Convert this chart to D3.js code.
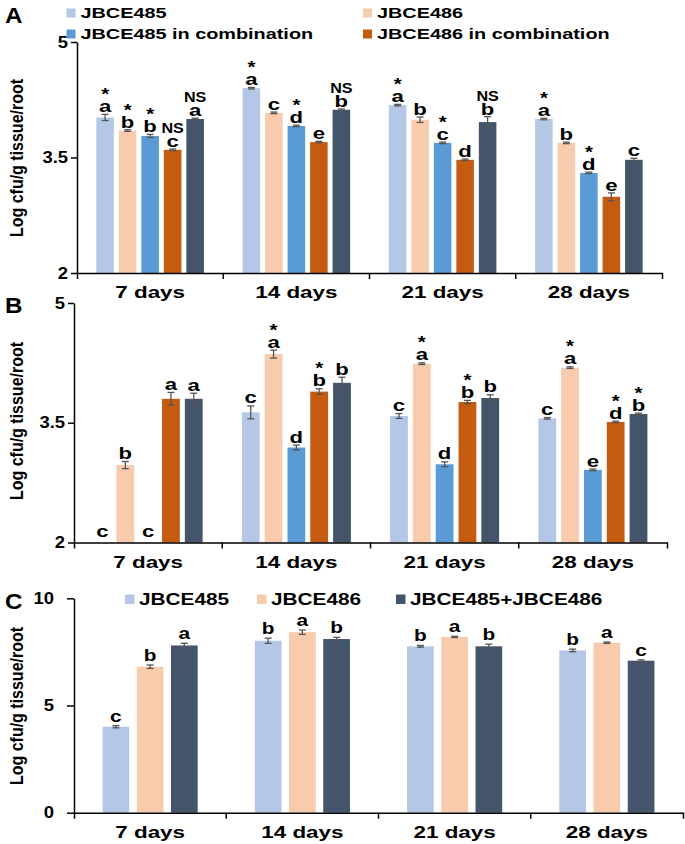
<!DOCTYPE html>
<html><head><meta charset="utf-8">
<script src="https://cdn.jsdelivr.net/npm/d3@7"></script>
<style>
html,body{margin:0;padding:0;background:#fff;}
svg{display:block;font-family:"Liberation Sans",Arial,sans-serif;}
</style></head>
<body>
<svg id="chart" width="685" height="844"></svg>
<script>
// ---------- DATA ----------
const days = ["7 days", "14 days", "21 days", "28 days"];
const seriesNames = ["JBCE485", "JBCE486", "JBCE485 in combination", "JBCE486 in combination", "JBCE485+JBCE486"];
const seriesColors = ["#b4c7e7", "#f8cbad", "#5b9bd5", "#c55a11", "#44546a"];
const ticksAB = [2, 3.5, 5];
const ticksC = [0, 5, 10];

// Panel A
const a485  = [4.02, 4.40, 4.18, 4.00];
const a486  = [3.85, 4.08, 3.99, 3.69];
const a485c = [3.78, 3.91, 3.69, 3.30];
const a486c = [3.60, 3.70, 3.47, 2.99];
const aMix  = [4.00, 4.12, 3.96, 3.47];
const a485Err  = [0.04, 0.01, 0.01, 0.01];
const a486Err  = [0.01, 0.01, 0.035, 0.01];
const a485cErr = [0.02, 0.01, 0.01, 0.01];
const a486cErr = [0.01, 0.01, 0.01, 0.05];
const aMixErr  = [0.01, 0.01, 0.07, 0.02];
const aLetters = [["a","b","b","c","a"],["a","c","d","e","b"],["a","b","c","d","b"],["a","b","d","e","c"]];
const aMarks   = [["*","*","*","NS","NS"],["*","","*","","NS"],["*","","*","","NS"],["*","","*","",""]];

// Panel B
const b485  = [2.00, 3.63, 3.585, 3.555];
const b486  = [2.97, 4.36, 4.24, 4.19];
const b485c = [2.00, 3.19, 2.98, 2.91];
const b486c = [3.80, 3.89, 3.76, 3.51];
const bMix  = [3.80, 4.00, 3.81, 3.61];
const b485Err  = [0, 0.08, 0.03, 0.01];
const b486Err  = [0.045, 0.05, 0.01, 0.01];
const b485cErr = [0, 0.03, 0.03, 0.01];
const b486cErr = [0.08, 0.035, 0.02, 0.01];
const bMixErr  = [0.07, 0.07, 0.04, 0.01];
const bLetters = [["c","b","c","a","a"],["c","a","d","b","b"],["c","a","d","b","b"],["c","a","e","d","b"]];
const bMarks   = [["","","","",""],["","*","","*",""],["","*","","*",""],["","*","","*","*"]];

// Panel C
const cSeries = ["JBCE485", "JBCE486", "JBCE485+JBCE486"];
const cColors = ["#b4c7e7", "#f8cbad", "#44546a"];
const c485 = [4.01, 8.02, 7.76, 7.57];
const c486 = [6.81, 8.42, 8.20, 7.93];
const cMix = [7.80, 8.10, 7.76, 7.09];
const c485Err = [0.05, 0.12, 0.04, 0.06];
const c486Err = [0.08, 0.10, 0.03, 0.03];
const cMixErr = [0.10, 0.08, 0.10, 0.04];
const cLetters = [["c","b","a"],["b","a","b"],["b","a","b"],["b","a","c"]];

const yTitle = "Log cfu/g tissue/root";

// ---------- HELPERS ----------
const svg = d3.select("#chart");

function stext(parent, x, y, str, o) {
  const t = parent.append("text")
    .attr("x", x).attr("y", y).text(str)
    .attr("font-size", o.size).attr("font-weight", "bold")
    .attr("text-anchor", o.anchor || "start")
    .attr("fill", o.fill || "#000");
  if (o.sx && o.sx !== 1) stretch(t, o.sx);
  return t;
}
function stretch(t, sx) {
  t.each(function () {
    const L = this.getComputedTextLength();
    d3.select(this).attr("textLength", L * sx).attr("lengthAdjust", "spacingAndGlyphs");
  });
}

function drawPanel(cfg) {
  const g = svg.append("g");
  const x = d3.scaleBand().domain(days).range(cfg.xRange).paddingInner(0).paddingOuter(0);
  const keys = d3.range(cfg.values.length);
  const xi = d3.scaleBand().domain(keys).range([0, x.bandwidth()])
    .paddingInner(0.22).paddingOuter(cfg.po);
  const y = d3.scaleLinear().domain(cfg.yDomain).range(cfg.yRange);
  const y0 = y(cfg.yDomain[0]);

  const rows = [];
  days.forEach((d, di) => {
    keys.forEach(k => {
      rows.push({day: d, di, k, v: cfg.values[k][di], e: cfg.errors[k][di],
        letter: cfg.letters[di][k], mark: cfg.marks ? cfg.marks[di][k] : ""});
    });
  });

  // bars
  g.selectAll("rect.bar").data(rows).join("rect").attr("class", "bar")
    .attr("x", d => x(d.day) + xi(d.k))
    .attr("width", xi.bandwidth())
    .attr("y", d => y(d.v))
    .attr("height", d => y0 - y(d.v))
    .attr("fill", d => cfg.colors[d.k]);

  // error bars
  const eg = g.append("g").attr("stroke", "#555").attr("stroke-width", 1.3).attr("fill", "none");
  rows.filter(d => d.v > cfg.yDomain[0]).forEach(d => {
    const cx = x(d.day) + xi(d.k) + xi.bandwidth() / 2;
    const y1 = y(d.v + d.e), y2 = y(d.v - d.e);
    eg.append("line").attr("x1", cx).attr("x2", cx).attr("y1", y1).attr("y2", y2);
    eg.append("line").attr("x1", cx - 3.5).attr("x2", cx + 3.5).attr("y1", y1).attr("y2", y1);
    eg.append("line").attr("x1", cx - 3.5).attr("x2", cx + 3.5).attr("y1", y2).attr("y2", y2);
  });

  // letters and marks
  rows.forEach(d => {
    const cx = x(d.day) + xi(d.k) + xi.bandwidth() / 2;
    const base = d.v > cfg.yDomain[0] ? y(d.v + d.e) - cfg.gap : y0 - 6;
    stext(g, cx, base, d.letter, {size: cfg.letterSize, anchor: "middle", sx: 1.3});
    if (d.mark === "*") stext(g, cx, base - 12, "*", {size: 17, anchor: "middle", sx: 1.2});
    if (d.mark === "NS") stext(g, cx, base - 14, "NS", {size: 14, anchor: "middle", sx: 1.15});
  });

  // y axis
  const ya = g.append("g").attr("transform", `translate(${cfg.xRange[0]},0)`)
    .call(d3.axisLeft(y).tickValues(cfg.ticks).tickSizeInner(cfg.yTick).tickSizeOuter(0)
      .tickPadding(cfg.yPad).tickFormat(d3.format("~g")));
  ya.selectAll("path,line").attr("stroke", "#000").attr("stroke-width", 1.5);
  ya.selectAll("text").attr("font-size", 16).attr("font-weight", "bold").attr("fill", "#000")
    .attr("font-family", "Liberation Sans, Arial, sans-serif");
  stretch(ya.selectAll("text"), 1.15);

  // x axis
  const xa = g.append("g").attr("transform", `translate(0,${y0})`)
    .call(d3.axisBottom(x).tickSizeInner(0).tickSizeOuter(6).tickPadding(14));
  xa.selectAll("path,line").attr("stroke", "#000").attr("stroke-width", 1.5);
  xa.selectAll("text").attr("font-size", 16).attr("font-weight", "bold").attr("fill", "#000")
    .attr("font-family", "Liberation Sans, Arial, sans-serif");
  stretch(xa.selectAll("text"), 1.4);
  days.slice(1).forEach(d => {
    xa.append("line").attr("x1", x(d)).attr("x2", x(d)).attr("y1", 0).attr("y2", 6)
      .attr("stroke", "#000").attr("stroke-width", 1.5);
  });

  // y title (figure is horizontally stretched, so glyph height is widened)
  g.append("text").attr("transform", `translate(23,${cfg.titleY}) scale(1.2,1) rotate(-90)`)
    .attr("text-anchor", "middle").attr("font-size", 16).attr("font-weight", "bold")
    .text(yTitle);

  // panel letter
  stext(g, 5, cfg.letterY, cfg.panel, {size: 22, sx: 1.1});
  return g;
}

// ---------- PANEL A ----------
drawPanel({
  panel: "A", letterY: 23,
  xRange: [77, 662], yDomain: [2, 5], yRange: [273, 42], ticks: ticksAB,
  values: [a485, a486, a485c, a486c, aMix],
  errors: [a485Err, a486Err, a485cErr, a486cErr, aMixErr],
  letters: aLetters, marks: aMarks, colors: seriesColors,
  po: 0.86, gap: 2, letterSize: 17, yTick: 6, yPad: 3, titleY: 158
});
const legA = svg.append("g");
const legApos = [[66.5, 8.5], [363, 8.5], [66.5, 29.5], [363, 29.5]];
legApos.forEach((p, i) => {
  legA.append("rect").attr("x", p[0]).attr("y", p[1]).attr("width", 9).attr("height", 9).attr("fill", seriesColors[i]);
  stext(legA, p[0] + 14, p[1] + 9, seriesNames[i], {size: 15.5, sx: 1.28});
});

// ---------- PANEL B ----------
drawPanel({
  panel: "B", letterY: 313,
  xRange: [74, 667], yDomain: [2, 5], yRange: [542.5, 303], ticks: ticksAB,
  values: [b485, b486, b485c, b486c, bMix],
  errors: [b485Err, b486Err, b485cErr, b486cErr, bMixErr],
  letters: bLetters, marks: bMarks, colors: seriesColors,
  po: 0.86, gap: 2.5, letterSize: 17, yTick: 6, yPad: 3, titleY: 421
});

// ---------- PANEL C ----------
drawPanel({
  panel: "C", letterY: 609,
  xRange: [74, 683], yDomain: [0, 10], yRange: [812.7, 598.3], ticks: ticksC,
  values: [c485, c486, cMix],
  errors: [c485Err, c486Err, cMixErr],
  letters: cLetters, marks: null, colors: cColors,
  po: 0.835, gap: 4, letterSize: 16, yTick: 7, yPad: 13, titleY: 706
});
const legC = svg.append("g");
const legCx = [125, 257, 396];
cSeries.forEach((s, i) => {
  legC.append("rect").attr("x", legCx[i]).attr("y", 594.5).attr("width", 9.5).attr("height", 9.5).attr("fill", cColors[i]);
  stext(legC, legCx[i] + 14, 604.5, s, {size: 16.5, sx: 1.26});
});
</script>
</body></html>
